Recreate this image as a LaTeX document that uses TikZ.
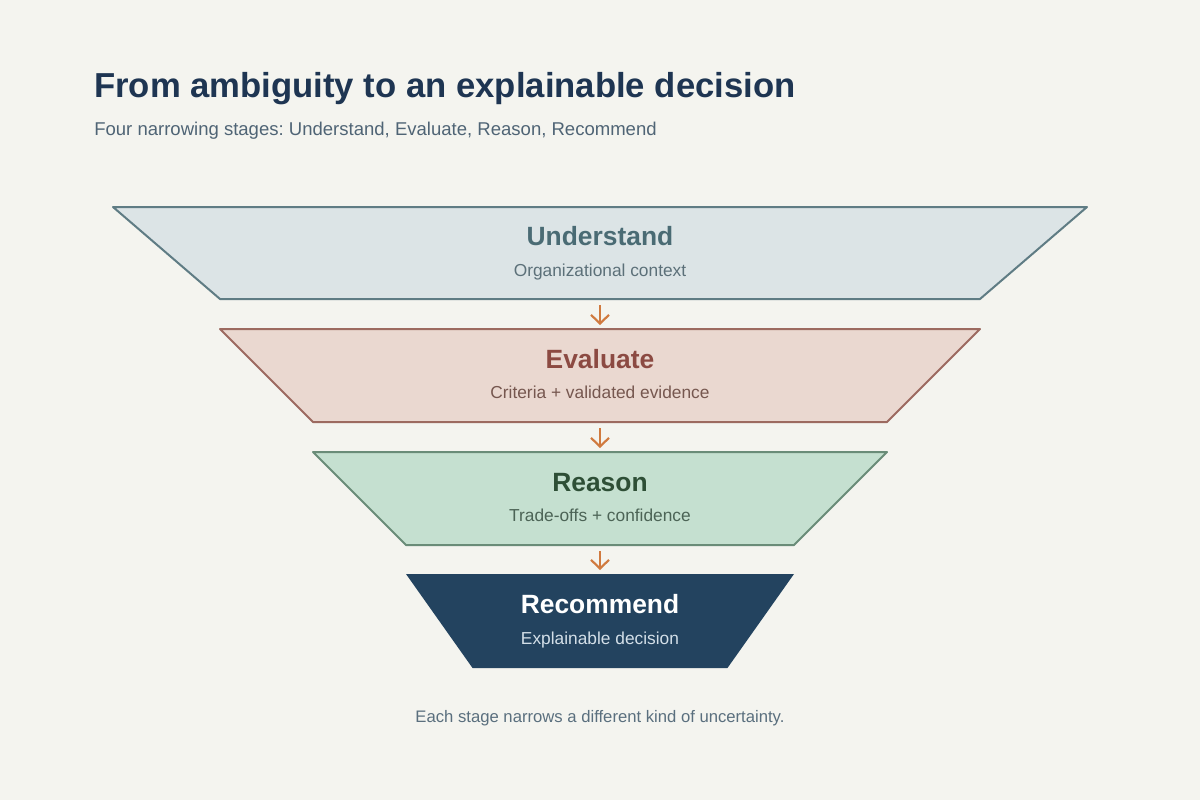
\documentclass[tikz,border=0pt]{standalone}
\usepackage{fontspec}
\setmainfont{Liberation Sans}
\frenchspacing
\usetikzlibrary{arrows.meta}
\pgfdeclarelayer{paperlayer}
\pgfdeclarelayer{nodelayer}
\pgfdeclarelayer{edgelayer}
\pgfsetlayers{paperlayer,edgelayer,nodelayer,main}
\definecolor{paper}{HTML}{F4F4EF}
\definecolor{headblue}{HTML}{1E3552}
\definecolor{leadgray}{HTML}{4F6475}
\definecolor{footgray}{HTML}{5A6F7E}
\definecolor{flowcolor}{HTML}{D07A3F}
\definecolor{ufill}{HTML}{DCE4E6}
\definecolor{udraw}{HTML}{5F7C84}
\definecolor{utext}{HTML}{4A6B74}
\definecolor{usub}{HTML}{5C7079}
\definecolor{efill}{HTML}{EAD8D0}
\definecolor{edraw}{HTML}{9C6A60}
\definecolor{etext}{HTML}{8C4A42}
\definecolor{esub}{HTML}{76574F}
\definecolor{rfill}{HTML}{C5E0D0}
\definecolor{rdraw}{HTML}{6A8C78}
\definecolor{rtext}{HTML}{2E4F36}
\definecolor{rsub}{HTML}{4C6456}
\definecolor{cfill}{HTML}{23435F}
\definecolor{csub}{HTML}{D3DFE8}
\tikzstyle{stage}=[draw=none, shape=rectangle, inner sep=0pt, outer sep=0pt]
\tikzstyle{stage edge}=[line width=1.5pt, line join=round]
\tikzstyle{stage title}=[anchor=base, inner sep=0pt, font=\fontsize{19.8}{23}\selectfont\bfseries]
\tikzstyle{stage note}=[anchor=base, inner sep=0pt, font=\fontsize{13}{15}\selectfont]
\tikzstyle{flow edge}=[draw=flowcolor, line width=1.6pt, -{Straight Barb[length=6.5pt,width=13.5pt]}, shorten <=4.5pt, shorten >=3pt]

\begin{document}
\begin{tikzpicture}[x=0.75pt, y=-0.75pt]
	\begin{pgfonlayer}{paperlayer}
		\fill [paper] (0,0) rectangle (1200,800);
	\end{pgfonlayer}
	\useasboundingbox (0,0) rectangle (1200,800);
	\begin{pgfonlayer}{nodelayer}
		\node [anchor=base west, inner sep=0pt, text=headblue, font=\fontsize{26}{30}\selectfont\bfseries] (title) at (94,97) {From ambiguity to an explainable decision};
		\node [anchor=base west, inner sep=0pt, text=leadgray, font=\fontsize{13.9}{16}\selectfont] (lead) at (94,135) {Four narrowing stages: Understand, Evaluate, Reason, Recommend};
		\node [stage, minimum width=730.5pt, minimum height=69pt] (understand) at (600,253) {};
		\node [stage, minimum width=570pt, minimum height=69.75pt] (evaluate) at (600,375.5) {};
		\node [stage, minimum width=430.5pt, minimum height=69.75pt] (reason) at (600,498.5) {};
		\node [stage, minimum width=291pt, minimum height=70.5pt] (recommend) at (600,621) {};
		\node [stage title, text=utext] (understand title) at (600,245) {Understand};
		\node [stage note, text=usub] (understand note) at (600,276) {Organizational context};
		\node [stage title, text=etext] (evaluate title) at (600,368) {Evaluate};
		\node [stage note, text=esub] (evaluate note) at (600,398.5) {Criteria + validated evidence};
		\node [stage title, text=rtext] (reason title) at (600,491) {Reason};
		\node [stage note, text=rsub] (reason note) at (600,521.5) {Trade-offs + confidence};
		\node [stage title, text=white] (recommend title) at (600,613.5) {Recommend};
		\node [stage note, text=csub] (recommend note) at (600,644) {Explainable decision};
		\node [anchor=base, inner sep=0pt, text=footgray, font=\fontsize{12.5}{14}\selectfont] (footer) at (600,722.5) {Each stage narrows a different kind of uncertainty.};
	\end{pgfonlayer}
	\begin{pgfonlayer}{edgelayer}
		\filldraw [style=stage edge, fill=ufill, draw=udraw] (understand.north west) -- (understand.north east) -- ([xshift=-80.25pt]understand.south east) -- ([xshift=80.25pt]understand.south west) -- cycle;
		\filldraw [style=stage edge, fill=efill, draw=edraw] (evaluate.north west) -- (evaluate.north east) -- ([xshift=-69.75pt]evaluate.south east) -- ([xshift=69.75pt]evaluate.south west) -- cycle;
		\filldraw [style=stage edge, fill=rfill, draw=rdraw] (reason.north west) -- (reason.north east) -- ([xshift=-69.75pt]reason.south east) -- ([xshift=69.75pt]reason.south west) -- cycle;
		\fill [cfill] (recommend.north west) -- (recommend.north east) -- ([xshift=-49.9pt]recommend.south east) -- ([xshift=49.9pt]recommend.south west) -- cycle;
		\draw [style=flow edge] (understand.south) to (evaluate.north);
		\draw [style=flow edge] (evaluate.south) to (reason.north);
		\draw [style=flow edge] (reason.south) to (recommend.north);
	\end{pgfonlayer}
\end{tikzpicture}
\end{document}
